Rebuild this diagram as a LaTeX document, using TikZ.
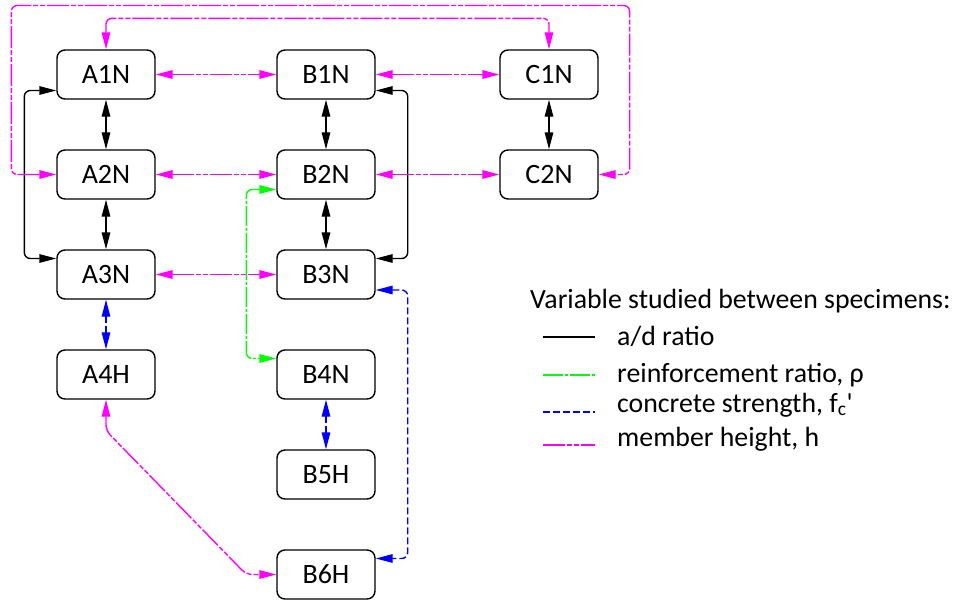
\documentclass[tikz,border=0pt]{standalone}
\usepackage{fontspec}
\setmainfont{Carlito}
\usetikzlibrary{arrows.meta, positioning}

\definecolor{mag}{RGB}{255,0,255}
\definecolor{grn}{RGB}{0,255,0}
\definecolor{blu}{RGB}{0,0,255}

\tikzset{
  spec/.style={draw, rounded corners=8pt, line width=1.4pt, minimum width=98pt,
    minimum height=49pt, inner sep=0pt, font=\fontsize{28}{33}\selectfont},
  both/.style={{Triangle[length=17pt,width=8.5pt]}-{Triangle[length=17pt,width=8.5pt]},
    line width=1.4pt, rounded corners=6pt},
  adrat/.style={both, black},
  rhorat/.style={both, grn, dash pattern=on 20pt off 2pt on 3pt off 2pt},
  fcstr/.style={both, blu, dash pattern=on 7pt off 3pt},
  height/.style={both, mag, dash pattern=on 22pt off 2pt on 5pt off 2pt on 5pt off 2pt},
  legtext/.style={anchor=base west, inner sep=0pt, font=\fontsize{27.8}{33}\selectfont}
}

\begin{document}
\begin{tikzpicture}[x=1pt, y=-1pt]
        \useasboundingbox (0,0) rectangle (956,600);

        \node[spec] (a1) at (106, 74.5) {A1N};
        \node[spec] (a2) at (106, 174.5) {A2N};
        \node[spec] (a3) at (106, 274.5) {A3N};
        \node[spec] (a4) at (106, 374.5) {A4H};
        \node[spec] (b1) at (326, 74.5) {B1N};
        \node[spec] (b2) at (326, 174.5) {B2N};
        \node[spec] (b3) at (326, 274.5) {B3N};
        \node[spec] (b4) at (326, 374.5) {B4N};
        \node[spec] (b5) at (326, 474.5) {B5H};
        \node[spec] (b6) at (326, 574.5) {B6H};
        \node[spec] (c1) at (549, 74.5) {C1N};
        \node[spec] (c2) at (549, 174.5) {C2N};

        \draw[adrat] (a1) to (a2);
        \draw[adrat] (a2) to (a3);
        \draw[adrat] (b1) to (b2);
        \draw[adrat] (b2) to (b3);
        \draw[adrat] (c1) to (c2);
        \draw[adrat] ([yshift=-16pt]a1.west) -- ++(-32pt,0) |- ([yshift=16pt]a3.west);
        \draw[adrat] ([yshift=-16pt]b1.east) -- ++(32pt,0) |- ([yshift=16pt]b3.east);

        \draw[height] (a1) to (b1);
        \draw[height] (b1) to (c1);
        \draw[height] (a2) to (b2);
        \draw[height] (b2) to (c2);
        \draw[height] (a3) to (b3);
        \draw[height] (a1.north) -- ++(0,31pt) -| (c1.north);
        \draw[height] (a2.west) -- ++(-45pt,0) -- ++(0,169pt) -| ([xshift=31pt]c2.east) -- (c2.east);
        \draw[height] (a4.south) -- ++(0,-31pt) -- ([xshift=-30pt]b6.west) -- (b6.west);

        \draw[rhorat] ([yshift=-15pt]b2.west) -- ++(-30pt,0) |- ([yshift=16pt]b4.west);

        \draw[fcstr] (a3) to (a4);
        \draw[fcstr] (b4) to (b5);
        \draw[fcstr] ([yshift=-15.5pt]b3.east) -- ++(32pt,0) |- ([yshift=16pt]b6.east);

        \node[legtext] (title) at (530, 308) {Variable studied between specimens:};
        \node[legtext] (k1) at (617, 345) {a/d ratio};
        \node[legtext] (k2) at (617, 382) {reinforcement ratio, ρ};
        \node[legtext] (k3) at (617, 412) {concrete strength, f\textsubscript{c}\textquotesingle};
        \node[legtext] (k4) at (617, 446) {member height, h};

        \draw[adrat, -] ([shift={(-74pt,8pt)}]k1.base west) -- ([shift={(-22pt,8pt)}]k1.base west);
        \draw[rhorat, -] ([shift={(-74pt,7pt)}]k2.base west) -- ([shift={(-22pt,7pt)}]k2.base west);
        \draw[fcstr, -] ([shift={(-74pt,0pt)}]k3.base west) -- ([shift={(-22pt,0pt)}]k3.base west);
        \draw[height, -] ([shift={(-74pt,1pt)}]k4.base west) -- ([shift={(-22pt,1pt)}]k4.base west);
    \end{tikzpicture}
\end{document}
